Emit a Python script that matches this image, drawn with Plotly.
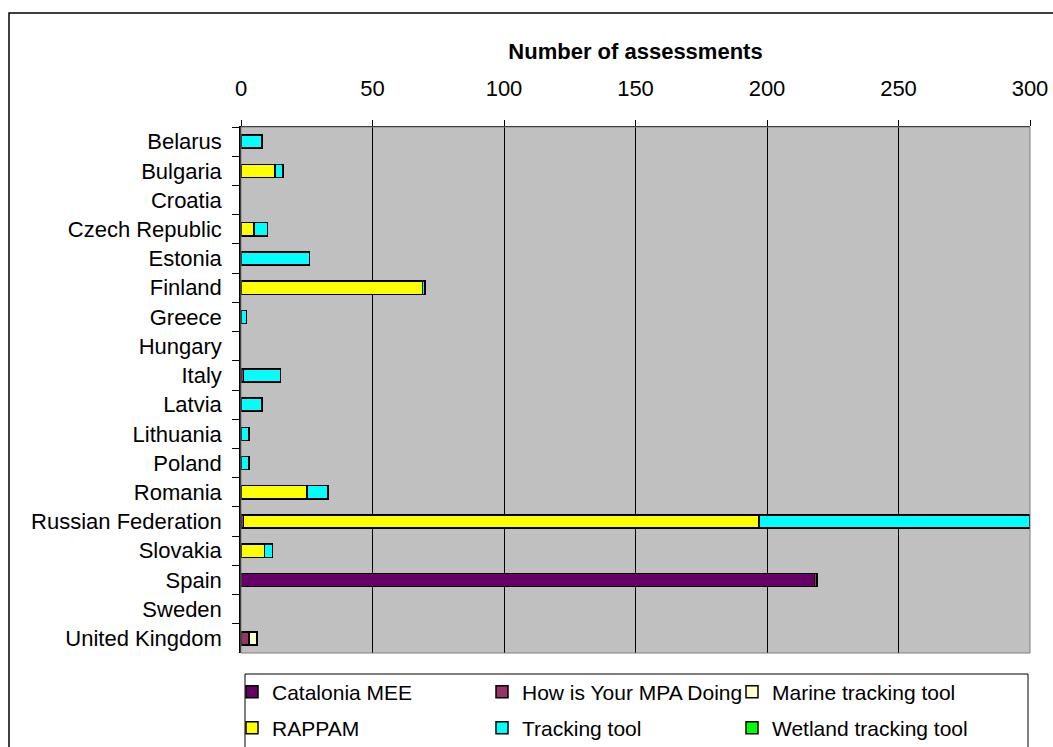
import plotly.graph_objects as go

countries = ["Belarus", "Bulgaria", "Croatia", "Czech Republic", "Estonia", "Finland",
             "Greece", "Hungary", "Italy", "Latvia", "Lithuania", "Poland", "Romania",
             "Russian Federation", "Slovakia", "Spain", "Sweden", "United Kingdom"]

catalonia_mee = [0, 0, 0, 0, 0, 0, 0, 0, 0, 0, 0, 0, 0, 0, 0, 218, 0, 0]
how_is_your_mpa = [0, 0, 0, 0, 0, 0, 0, 0, 1, 0, 0, 0, 0, 1, 0, 1, 0, 3]
marine_tracking = [0, 0, 0, 0, 0, 0, 0, 0, 0, 0, 0, 0, 0, 0, 0, 0, 0, 3]
rappam = [0, 13, 0, 5, 0, 69, 0, 0, 0, 0, 0, 0, 25, 196, 9, 0, 0, 0]
tracking_tool = [8, 3, 0, 5, 26, 1, 2, 0, 14, 8, 3, 3, 8, 103, 3, 0, 0, 0]
wetland_tracking = [0, 0, 0, 0, 0, 0, 0, 0, 0, 0, 0, 0, 0, 0, 0, 0, 0, 0]

series = [
    ("Catalonia MEE", catalonia_mee, "#660066", "legend"),
    ("How is Your MPA Doing", how_is_your_mpa, "#993366", "legend"),
    ("Marine tracking tool", marine_tracking, "#FFFFCC", "legend"),
    ("RAPPAM", rappam, "#FFFF00", "legend2"),
    ("Tracking tool", tracking_tool, "#00FFFF", "legend2"),
    ("Wetland tracking tool", wetland_tracking, "#00FF00", "legend2"),
]

FONT = "Liberation Sans, Arial, sans-serif"
W, H = 1053, 747
ML, MR, MT, MB = 241, 23, 127, 94
PW, PH = W - ML - MR, H - MT - MB

def px_x(px):
    return (px - ML) / PW

def px_y(py):
    return (H - MB - py) / PH

fig = go.Figure()
for name, vals, color, lg in series:
    fig.add_trace(go.Bar(
        y=countries, x=[v if v else None for v in vals], name=name, orientation="h",
        marker=dict(color=color, line=dict(color="black", width=1.5)),
        legend=lg,
    ))

legend_common = dict(
    orientation="h", xref="container", yref="container",
    x=232 / W, xanchor="left", yanchor="middle",
    entrywidth=205, entrywidthmode="pixels",
    bgcolor="rgba(0,0,0,0)", borderwidth=0, font=dict(size=21),
    traceorder="normal",
)

fig.update_layout(
    width=W, height=H,
    margin=dict(l=ML, r=MR, t=MT, b=MB, pad=0, autoexpand=False),
    barmode="stack", bargap=0.55,
    paper_bgcolor="white", plot_bgcolor="#C0C0C0",
    font=dict(family=FONT, size=22, color="black"),
    xaxis=dict(
        side="top", range=[0, 300], dtick=50, tick0=0,
        showgrid=True, gridcolor="black", gridwidth=1,
        showline=True, linecolor="black", linewidth=1,
        ticks="outside", ticklen=6, tickcolor="black",
        ticklabelstandoff=15,
        zeroline=False,
        title=dict(text="<b>Number of assessments</b>", font=dict(size=22), standoff=10),
        automargin=False, fixedrange=True,
    ),
    yaxis=dict(
        autorange="reversed", type="category",
        showline=True, linecolor="black", linewidth=1.5,
        ticks="outside", ticklen=7, tickcolor="black", tickson="boundaries",
        ticklabelstandoff=13, showgrid=False,
        automargin=False, fixedrange=True,
    ),
    legend=dict(legend_common, y=1 - 692 / H),
    legend2=dict(legend_common, y=1 - 728 / H),
    shapes=[
        dict(type="rect", xref="paper", yref="paper", x0=0, x1=1, y0=0, y1=1,
             line=dict(color="#808080", width=1), layer="above"),
        dict(type="rect", xref="paper", yref="paper", x0=px_x(245), x1=px_x(1028),
             y0=px_y(800), y1=px_y(674), line=dict(color="black", width=1)),
        dict(type="rect", xref="paper", yref="paper", x0=px_x(9), x1=px_x(1100),
             y0=px_y(800), y1=px_y(13), line=dict(color="black", width=1.5)),
    ],
    showlegend=True,
)

fig.write_html("out.html")
